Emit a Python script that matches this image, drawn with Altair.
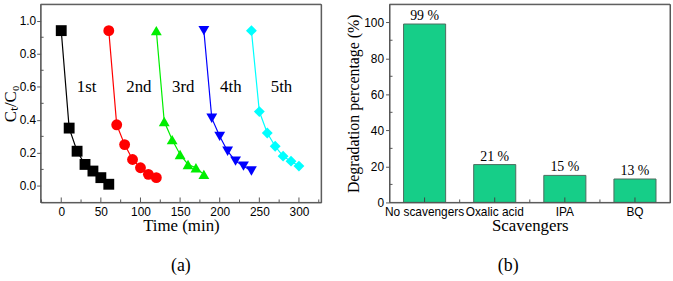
import altair as alt
import pandas as pd

# ---------- data (a) ----------
series_names = ["1st", "2nd", "3rd", "4th", "5th"]
series_times = [
    [0, 10, 20, 30, 40, 50, 60],
    [60, 70, 80, 90, 100, 110, 120],
    [120, 130, 140, 150, 160, 170, 180],
    [180, 190, 200, 210, 220, 230, 240],
    [240, 250, 260, 270, 280, 290, 300],
]
series_values = [
    [0.94, 0.35, 0.21, 0.13, 0.09, 0.05, 0.01],
    [0.94, 0.37, 0.25, 0.16, 0.11, 0.07, 0.05],
    [0.94, 0.39, 0.28, 0.19, 0.13, 0.11, 0.07],
    [0.94, 0.41, 0.30, 0.21, 0.15, 0.12, 0.09],
    [0.94, 0.45, 0.32, 0.24, 0.18, 0.15, 0.12],
]
series_colors = ["#000000", "#FF0000", "#00EE00", "#0000FF", "#00FFFF"]
series_shapes = ["square", "circle", "triangle-up", "triangle-down", "diamond"]

label_text = ["1st", "2nd", "3rd", "4th", "5th"]
label_x = [32, 98, 154, 214, 278]
label_y = [0.60, 0.60, 0.60, 0.60, 0.60]

x_major = [0, 50, 100, 150, 200, 250, 300]
x_minor = [-25, 25, 75, 125, 175, 225, 275, 325]
y_major_a = [0.0, 0.2, 0.4, 0.6, 0.8, 1.0]
y_minor_a = [-0.1, 0.1, 0.3, 0.5, 0.7, 0.9]

# ---------- data (b) ----------
scavengers = ["No scavengers", "Oxalic acid", "IPA", "BQ"]
degradation = [99, 21, 15, 13]
degradation_labels = ["99 %", "21 %", "15 %", "13 %"]
y_major_b = [0, 20, 40, 60, 80, 100]
y_minor_b = [10, 30, 50, 70, 90]

SERIF = "Liberation Serif"
SANS = "Liberation Sans"
FRAME = "#555555"

rows = []
for name, ts, vs in zip(series_names, series_times, series_values):
    for t, v in zip(ts, vs):
        rows.append({"series": name, "time": t, "ratio": v})
df_a = pd.DataFrame(rows)
df_lab = pd.DataFrame({"text": label_text, "time": label_x, "ratio": label_y})
df_xmaj = pd.DataFrame({"time": x_major})
df_xmin = pd.DataFrame({"time": x_minor})
df_ymin_a = pd.DataFrame({"ratio": y_minor_a})
df_frame = pd.DataFrame({"frame": ["box"]})

W, H = 283, 200

xs = alt.Scale(domain=[-26, 328], nice=False, zero=False)
ys = alt.Scale(domain=[-0.1, 1.1], nice=False, zero=False)

color = alt.Color("series:N", scale=alt.Scale(domain=series_names, range=series_colors), legend=None)
shape = alt.Shape("series:N", scale=alt.Scale(domain=series_names, range=series_shapes), legend=None)

x_enc = alt.X("time:Q", scale=xs, axis=alt.Axis(
    values=x_major, ticks=False, domain=False, grid=False, labelPadding=4,
    labelFont=SANS, labelFontSize=12, labelColor="#000", labelOverlap=False,
    title="Time (min)", titleFont=SERIF, titleFontSize=17, titleFontWeight="normal",
    titlePadding=0, titleColor="#000"))
y_enc = alt.Y("ratio:Q", scale=ys, axis=alt.Axis(
    values=y_major_a, format=".1f", tickSize=4, tickColor=FRAME, domain=False, grid=False,
    labelFont=SANS, labelFontSize=12, labelColor="#000", labelPadding=1, labelOverlap=False,
    title="Cₜ/C₀", titleFont=SERIF, titleFontSize=17, titleFontWeight="normal",
    titlePadding=0, titleColor="#000"))

lines = alt.Chart(df_a).mark_line(strokeWidth=1.2).encode(
    x=x_enc, y=y_enc, color=color, detail="series:N")
points = alt.Chart(df_a).mark_point(filled=True, size=120, opacity=1).encode(
    x=x_enc, y=y_enc, color=color, shape=shape)
texts = alt.Chart(df_lab).mark_text(font=SERIF, fontSize=17, color="#000").encode(
    x=x_enc, y=y_enc, text="text:N")
tmaj = alt.Chart(df_xmaj).mark_rule(color=FRAME).encode(
    x=x_enc, y=alt.value(H), y2=alt.value(H - 5))
tmin = alt.Chart(df_xmin).mark_rule(color=FRAME).encode(
    x=x_enc, y=alt.value(H), y2=alt.value(H - 3))
tymin = alt.Chart(df_ymin_a).mark_rule(color=FRAME).encode(
    y=y_enc, x=alt.value(0), x2=alt.value(3))
frame_a = alt.Chart(df_frame).mark_rect(fillOpacity=0, stroke=FRAME, strokeWidth=1).encode(
    x=alt.value(0), x2=alt.value(W), y=alt.value(0), y2=alt.value(H))

panel_a = alt.layer(lines, points, texts, tmaj, tmin, tymin, frame_a).properties(
    width=W, height=H,
    title=alt.TitleParams("(a)", orient="bottom", font=SERIF, fontSize=18,
                          fontWeight="normal", offset=24, anchor="middle", color="#000"))

# ---------- panel b ----------
df_b = pd.DataFrame({"scav": scavengers, "deg": degradation, "lab": degradation_labels})
df_ymin = pd.DataFrame({"deg": y_minor_b})
df_bound = pd.DataFrame({"scav": scavengers[:-1]})

WB = 283
bx = alt.Scale(domain=scavengers, paddingInner=0.4, paddingOuter=0.2)
by = alt.Scale(domain=[0, 110], nice=False)

bx_enc = alt.X("scav:N", scale=bx, sort=scavengers, axis=alt.Axis(
    labelAngle=0, ticks=False, domain=False, grid=False, labelPadding=4,
    labelFont=SANS, labelFontSize=12, labelColor="#000", labelOverlap=False,
    title="Scavengers", titleFont=SERIF, titleFontSize=17, titleFontWeight="normal",
    titlePadding=0, titleColor="#000"))
by_enc = alt.Y("deg:Q", scale=by, axis=alt.Axis(
    values=y_major_b, tickSize=4, tickColor=FRAME, domain=False, grid=False,
    labelFont=SANS, labelFontSize=12, labelColor="#000", labelPadding=2, labelOverlap=False,
    title="Degradation percentage (%)", titleFont=SERIF, titleFontSize=16,
    titleFontWeight="normal", titlePadding=2, titleColor="#000"))

bars = alt.Chart(df_b).mark_bar(color="#16CE88", stroke="#4d6b5e", strokeWidth=1).encode(
    x=bx_enc, y=by_enc)
btext = alt.Chart(df_b).mark_text(font=SERIF, fontSize=14, color="#000", dy=-8).encode(
    x=bx_enc, y=by_enc, text="lab:N")
bctick = alt.Chart(df_b).mark_rule(color="#444").encode(
    x=bx_enc, y=alt.value(H), y2=alt.value(H - 5))
bbtick = alt.Chart(df_bound).mark_rule(color=FRAME, xOffset=35.4).encode(
    x=bx_enc, y=alt.value(H), y2=alt.value(H - 3))
bytick = alt.Chart(df_ymin).mark_rule(color=FRAME).encode(
    y=by_enc, x=alt.value(0), x2=alt.value(3))
frame_b = alt.Chart(df_frame).mark_rect(fillOpacity=0, stroke=FRAME, strokeWidth=1).encode(
    x=alt.value(0), x2=alt.value(WB), y=alt.value(0), y2=alt.value(H))

panel_b = alt.layer(bars, btext, bctick, bbtick, bytick, frame_b).properties(
    width=WB, height=H,
    title=alt.TitleParams("(b)", orient="bottom", font=SERIF, fontSize=18,
                          fontWeight="normal", offset=24, anchor="middle",
                          frame="bounds", color="#000"))

chart = alt.hconcat(panel_a, panel_b, spacing=23).properties(
    padding={"left": 0, "top": 2, "right": 2, "bottom": 0},
    background="white"
).configure_view(stroke=FRAME, strokeWidth=1)

chart.save("out.html", embed_options={"renderer": "svg", "actions": False})
